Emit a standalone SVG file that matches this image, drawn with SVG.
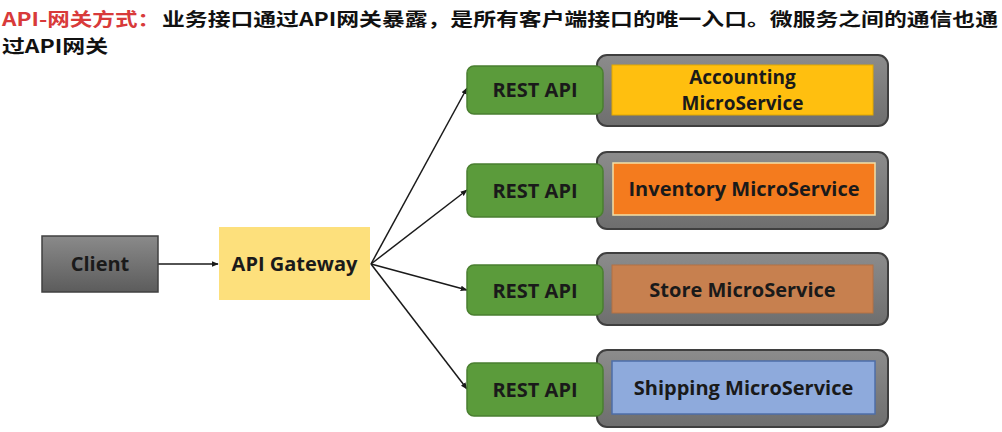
<svg xmlns="http://www.w3.org/2000/svg" width="1002" height="432" viewBox="0 0 1002 432">
<defs>
<style>
.t{font-family:"Noto Sans CJK SC","Noto Sans",sans-serif;font-weight:bold;font-size:18.5px}
.l{font-family:"Open Sans","Noto Sans",sans-serif;font-weight:bold;font-size:20px;fill:#1a1a1a;text-anchor:middle}
.rest{fill:#5b9b3b;stroke:#4a7f30;stroke-width:1.5}
.outer{fill:url(#gg);stroke:#3f3f3f;stroke-width:2}
.c{stroke:#1a1a1a;stroke-width:1.5;fill:none;marker-end:url(#ah)}
</style>
<linearGradient id="gg" x1="0" y1="0" x2="0" y2="1">
<stop offset="0" stop-color="#8c8c8c"/><stop offset="1" stop-color="#6e6e6e"/>
</linearGradient>
<linearGradient id="cg" x1="0" y1="0" x2="0" y2="1">
<stop offset="0" stop-color="#8a8a8a"/><stop offset="1" stop-color="#5c5c5c"/>
</linearGradient>
<marker id="ah" viewBox="0 0 10 10" refX="9" refY="5" markerWidth="7" markerHeight="7" orient="auto" markerUnits="userSpaceOnUse">
<path d="M0,1 L10,5 L0,9 z" fill="#1a1a1a"/>
</marker>
</defs>
<rect width="1002" height="432" fill="#ffffff"/>
<g id="title">
<text class="t" x="2" y="26" fill="#d83a3a" textLength="158" lengthAdjust="spacingAndGlyphs">API-网关方式：</text>
<text class="t" x="162" y="26" fill="#111" textLength="836" lengthAdjust="spacingAndGlyphs">业务接口通过API网关暴露，是所有客户端接口的唯一入口。微服务之间的通信也通</text>
<text class="t" x="2" y="53" fill="#111" textLength="106" lengthAdjust="spacingAndGlyphs">过API网关</text>
</g>
<g id="connectors">
<line class="c" x1="158" y1="264" x2="218" y2="264"/>
<line class="c" x1="371" y1="264" x2="467" y2="88"/>
<line class="c" x1="371" y1="264" x2="467" y2="190"/>
<line class="c" x1="371" y1="264" x2="467" y2="290"/>
<line class="c" x1="371" y1="264" x2="467" y2="389"/>
</g>
<g id="client">
<rect x="42" y="236" width="116" height="56" fill="url(#cg)" stroke="#404040" stroke-width="1.5"/>
<text class="l" x="100" y="271">Client</text>
</g>
<g id="gateway">
<rect x="219" y="227" width="151" height="73" fill="#fde07c"/>
<text class="l" x="294.5" y="271">API Gateway</text>
</g>
<g id="accounting">
<rect class="outer" x="597" y="55" width="291" height="71" rx="10"/>
<rect x="612" y="65" width="261" height="50" fill="#ffbf0f" stroke="#e0a800" stroke-width="1"/>
<text class="l" x="742.5" y="84" style="font-size:19px">Accounting</text>
<text class="l" x="742.5" y="110" style="font-size:19px">MicroService</text>
<rect class="rest" x="467" y="66" width="136" height="48" rx="7"/>
<text class="l" x="535" y="97">REST API</text>
</g>
<g id="inventory">
<rect class="outer" x="597" y="152" width="291" height="77" rx="10"/>
<rect x="613" y="163" width="262" height="52" fill="#f47b1e" stroke="#f3dfa6" stroke-width="1.5"/>
<text class="l" x="744" y="196">Inventory MicroService</text>
<rect class="rest" x="467" y="164" width="136" height="53" rx="7"/>
<text class="l" x="535" y="198">REST API</text>
</g>
<g id="store">
<rect class="outer" x="597" y="253" width="291" height="72" rx="10"/>
<rect x="612" y="265" width="261" height="48" fill="#c7804f" stroke="#b27045" stroke-width="1"/>
<text class="l" x="742.5" y="297">Store MicroService</text>
<rect class="rest" x="467" y="265" width="136" height="50" rx="7"/>
<text class="l" x="535" y="298">REST API</text>
</g>
<g id="shipping">
<rect class="outer" x="597" y="350" width="291" height="77" rx="10"/>
<rect x="612" y="361" width="263" height="53" fill="#8eaadc" stroke="#4e6ea8" stroke-width="1.5"/>
<text class="l" x="743.5" y="395">Shipping MicroService</text>
<rect class="rest" x="467" y="363" width="136" height="53" rx="7"/>
<text class="l" x="535" y="397">REST API</text>
</g>
</svg>
